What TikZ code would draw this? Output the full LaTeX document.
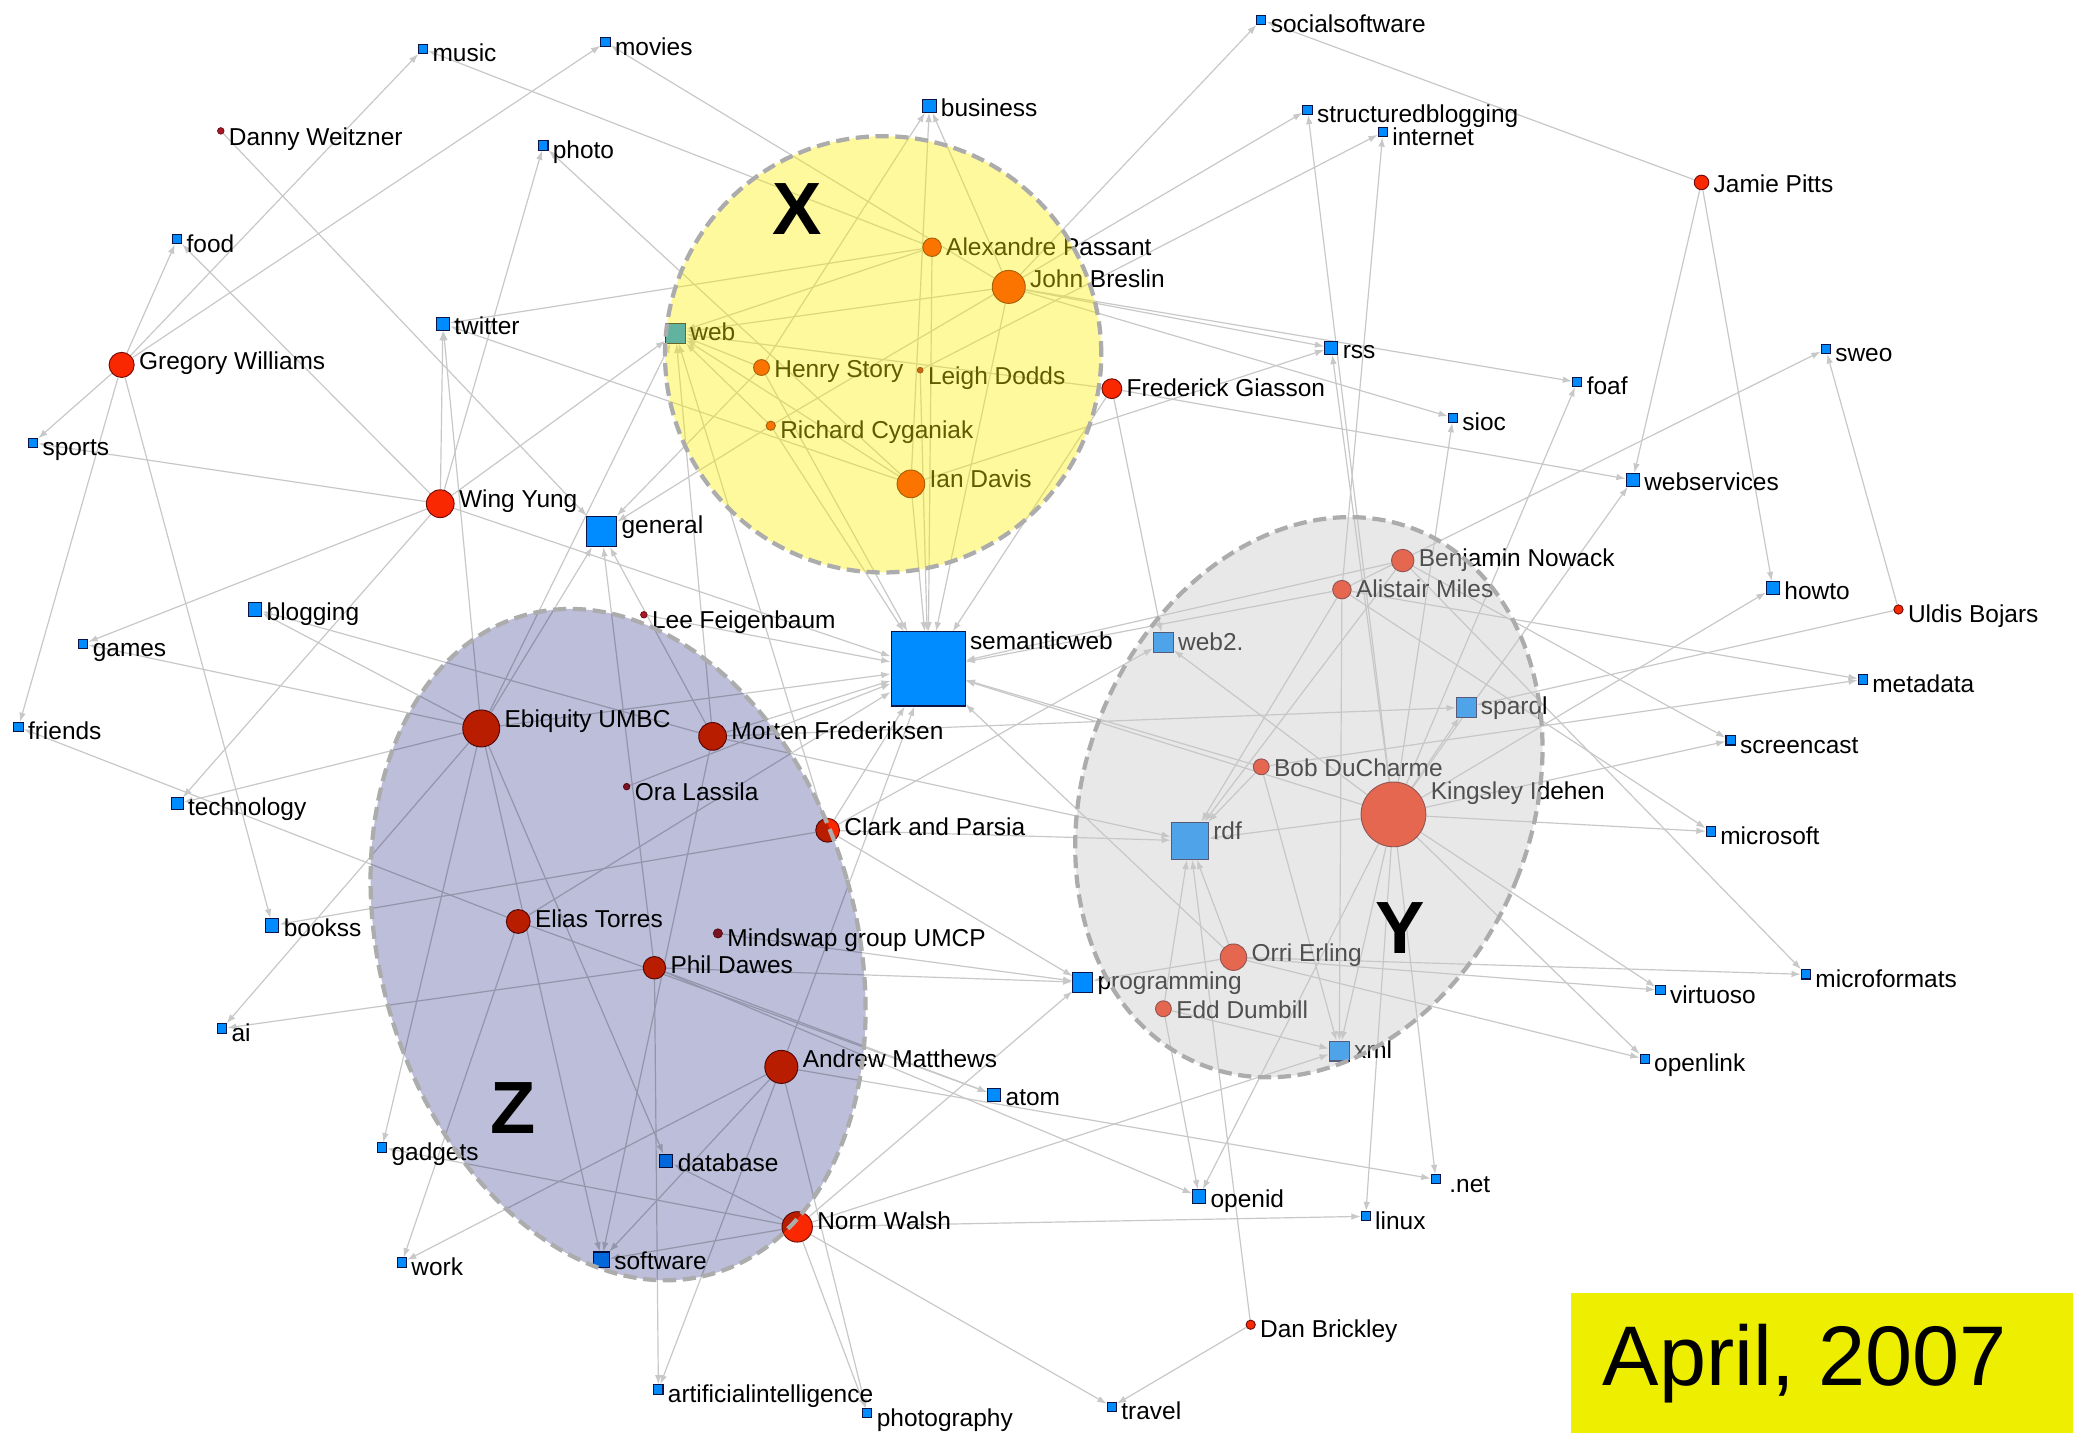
\documentclass[tikz,border=0pt]{standalone}
\usepackage{fontspec}
\setmainfont{Liberation Sans}
\usetikzlibrary{arrows.meta,backgrounds}
\definecolor{tagblue}{RGB}{0,140,255}
\definecolor{tagline}{RGB}{10,20,70}
\definecolor{pred}{RGB}{250,40,0}
\definecolor{pdark}{RGB}{165,25,40}
\definecolor{pline}{RGB}{110,10,10}
\definecolor{edgec}{RGB}{200,200,200}
\definecolor{xfill}{RGB}{255,240,0}
\definecolor{yfill}{RGB}{198,198,198}
\definecolor{zfill}{RGB}{188,190,218}
\definecolor{ringc}{RGB}{172,172,172}
\definecolor{datey}{RGB}{238,238,0}
\tikzset{
  tg/.style={rectangle, draw=tagline, fill=tagblue, line width=0.8pt, inner sep=0pt},
  pn/.style={circle, draw=pline, fill=pred, line width=0.7pt, inner sep=0pt},
  pd/.style={circle, draw=pline, fill=pdark, line width=0.5pt, inner sep=0pt},
  lbl/.style={anchor=base west, inner sep=0pt, text=black, font=\fontsize{18.5}{20}\selectfont},
  lnk/.style={draw=edgec, line width=0.9pt, -{Latex[length=7pt,width=5pt]}},
  ring/.style={draw=ringc, line width=3.2pt, dash pattern=on 10pt off 5pt},
  bigletter/.style={font=\fontsize{56}{60}\selectfont\bfseries, inner sep=0pt}
}
\newcommand\gnode[6]{%
  \node[#1, minimum size=#5pt] (#2) at (#3,#4) {};
  \node[lbl] (#2l) at ({#3+#5/2+3.5},{#4-#5/2+13.2}) {#6};
}
\begin{document}
\begin{tikzpicture}[x=1pt,y=-1pt]
\useasboundingbox (0,0) rectangle (1568,1084);
% ---------- people ----------
\gnode{pn}{gw}{92}{276}{19}{Gregory Williams}
\gnode{pd}{danny}{167}{99}{5}{Danny Weitzner}
\gnode{pn}{alex}{705}{187}{14}{Alexandre Passant}
\gnode{pn}{john}{763}{217}{25}{John Breslin}
\gnode{pn}{henry}{576}{278}{12}{Henry Story}
\gnode{pd}{leigh}{696}{280}{4.5}{Leigh Dodds}
\gnode{pn}{richard}{583}{322}{7}{Richard Cyganiak}
\gnode{pn}{ian}{689}{366}{21}{Ian Davis}
\gnode{pn}{fred}{841}{294}{15}{Frederick Giasson}
\gnode{pn}{jamie}{1287}{138}{11}{Jamie Pitts}
\gnode{pn}{wing}{333}{381}{21}{Wing Yung}
\gnode{pd}{lee}{487}{465}{5}{Lee Feigenbaum}
\gnode{pn}{ben}{1061}{424}{17}{Benjamin Nowack}
\gnode{pn}{alistair}{1015}{446}{14}{Alistair Miles}
\gnode{pn}{uldis}{1436}{461}{7}{Uldis Bojars}
\gnode{pn}{ebiq}{364}{551}{28}{Ebiquity UMBC}
\gnode{pn}{morten}{539}{557}{21}{Morten Frederiksen}
\gnode{pd}{ora}{474}{595}{5}{Ora Lassila}
\gnode{pn}{clark}{626}{628}{18}{Clark and Parsia}
\gnode{pn}{bob}{954}{580}{12}{Bob DuCharme}
\gnode{pn}{king}{1054}{616}{49}{Kingsley Idehen}
\gnode{pn}{elias}{392}{697}{18}{Elias Torres}
\gnode{pd}{mind}{543}{706}{7}{Mindswap group UMCP}
\gnode{pn}{phil}{495}{732}{17}{Phil Dawes}
\gnode{pn}{orri}{933}{724}{20}{Orri Erling}
\gnode{pn}{edd}{880}{763}{12}{Edd Dumbill}
\gnode{pn}{andrew}{591}{807}{25}{Andrew Matthews}
\gnode{pn}{norm}{603}{928}{23}{Norm Walsh}
\gnode{pn}{dan}{946}{1002}{7}{Dan Brickley}
% ---------- tags ----------
\gnode{tg}{music}{320}{37}{7}{music}
\gnode{tg}{movies}{458}{32}{7}{movies}
\gnode{tg}{business}{703}{80}{10}{business}
\gnode{tg}{socsw}{954}{15}{7}{socialsoftware}
\gnode{tg}{sblog}{989}{83}{7}{structuredblogging}
\gnode{tg}{internet}{1046}{100}{7}{internet}
\gnode{tg}{photo}{411}{110}{7}{photo}
\gnode{tg}{food}{134}{181}{7}{food}
\gnode{tg}{twitter}{335}{245}{10}{twitter}
\gnode{tg}{web}{511}{252}{15}{web}
\gnode{tg}{rss}{1007}{263}{10}{rss}
\gnode{tg}{foaf}{1193}{289}{7}{foaf}
\gnode{tg}{sweo}{1381}{264}{7}{sweo}
\gnode{tg}{sioc}{1099}{316}{7}{sioc}
\gnode{tg}{sports}{25}{335}{7}{sports}
\gnode{tg}{websvc}{1235}{363}{10}{webservices}
\gnode{tg}{general}{455}{402}{23}{general}
\gnode{tg}{blogging}{193}{461}{10}{blogging}
\gnode{tg}{games}{63}{487}{7}{games}
\gnode{tg}{semweb}{702}{506}{56}{semanticweb}
\gnode{tg}{webtwo}{880}{486}{15}{web2.}
\gnode{tg}{friends}{14}{550}{7}{friends}
\gnode{tg}{metadata}{1409}{514}{7}{metadata}
\gnode{tg}{sparql}{1109}{535}{15}{sparql}
\gnode{tg}{screencast}{1309}{560}{7}{screencast}
\gnode{tg}{tech}{134}{608}{9}{technology}
\gnode{tg}{microsoft}{1294}{629}{7}{microsoft}
\gnode{tg}{rdf}{900}{636}{28}{rdf}
\gnode{tg}{bookss}{206}{700}{10}{bookss}
\gnode{tg}{prog}{819}{743}{15}{programming}
\gnode{tg}{virtuoso}{1256}{749}{7}{virtuoso}
\gnode{tg}{microformats}{1366}{737}{7}{microformats}
\gnode{tg}{ai}{168}{778}{7}{ai}
\gnode{tg}{xml}{1013}{795}{15}{xml}
\gnode{tg}{openlink}{1244}{801}{7}{openlink}
\gnode{tg}{atom}{752}{828}{10}{atom}
\gnode{tg}{gadgets}{289}{868}{7}{gadgets}
\gnode{tg}{database}{504}{878}{10}{database}
\gnode{tg}{dotnet}{1086}{892}{7}{\,.net}
\gnode{tg}{openid}{907}{905}{10}{openid}
\gnode{tg}{linux}{1033}{920}{7}{linux}
\gnode{tg}{software}{455}{953}{12}{software}
\gnode{tg}{work}{304}{955}{7}{work}
\gnode{tg}{artint}{498}{1051}{7}{artificialintelligence}
\gnode{tg}{photography}{656}{1069}{7}{photography}
\gnode{tg}{travel}{841}{1064}{7}{travel}
\gnode{tg}{howto}{1341}{445}{10}{howto}
% ---------- connectors ----------
\begin{scope}[on background layer]
\fill[white] (0,0) rectangle (1568,1084);
\foreach \a/\b in {gw/music, gw/food, gw/sports, gw/movies, gw/friends, gw/bookss,
  danny/general,
  wing/photo, wing/twitter, wing/food, wing/sports, wing/games, wing/tech, wing/web, wing/semweb,
  ebiq/twitter, ebiq/web, ebiq/general, ebiq/games, ebiq/blogging, ebiq/tech, ebiq/ai, ebiq/gadgets, ebiq/software, ebiq/database, ebiq/semweb,
  alex/music, alex/twitter, alex/web, alex/semweb,
  john/movies, john/socsw, john/rss, john/foaf, john/sioc, john/semweb, john/web, john/business,
  henry/business, henry/semweb, henry/web, henry/general,
  leigh/internet, leigh/semweb,
  richard/sblog, richard/general, richard/semweb, richard/web,
  ian/photo, ian/twitter, ian/rss, ian/semweb, ian/web, ian/business,
  fred/web, fred/websvc, fred/webtwo, fred/semweb,
  jamie/socsw, jamie/websvc, jamie/howto,
  lee/semweb, ora/semweb,
  morten/general, morten/semweb, morten/web, morten/blogging, morten/sparql, morten/rdf, morten/software,
  clark/semweb, clark/rdf, clark/bookss, clark/prog, clark/web, clark/webtwo,
  elias/friends, elias/work, elias/atom, elias/semweb,
  phil/general, phil/artint, phil/atom, phil/prog, phil/openid, phil/ai,
  mind/prog,
  andrew/work, andrew/photography, andrew/artint, andrew/software, andrew/dotnet, andrew/semweb,
  norm/linux, norm/travel, norm/photography, norm/software, norm/database, norm/gadgets, norm/prog, norm/xml,
  king/semweb, king/rdf, king/sparql, king/xml, king/virtuoso, king/openlink, king/microsoft, king/screencast, king/howto, king/websvc, king/foaf, king/sioc, king/rss, king/sblog, king/dotnet, king/linux, king/openid, king/webtwo,
  ben/semweb, ben/screencast, ben/microformats, ben/rdf,
  alistair/semweb, alistair/rdf, alistair/internet, alistair/metadata, alistair/microsoft, alistair/sweo, alistair/xml,
  bob/semweb, bob/xml, bob/metadata, bob/rdf,
  uldis/sparql, uldis/sweo,
  orri/rdf, orri/virtuoso, orri/openlink, orri/microformats, orri/semweb, orri/prog,
  edd/rdf, edd/xml, edd/openid,
  dan/rdf, dan/travel}
  \draw[lnk] (\a) -- (\b);
\end{scope}
% ---------- cluster overlays ----------
\fill[xfill, fill opacity=0.38] (668,268) circle [radius=165pt];
\fill[yfill, fill opacity=0.4, shift={(990,603)}, rotate=-22] (0,0) ellipse [x radius=169pt, y radius=218pt];
\begin{scope}[blend mode=multiply]
\fill[zfill, shift={(467.5,714.5)}, rotate=16] (0,0) ellipse [x radius=180pt, y radius=259pt];
\end{scope}
\draw[ring] (668,268) circle [radius=165pt];
\draw[ring, shift={(990,603)}, rotate=-22] (0,0) ellipse [x radius=169pt, y radius=218pt];
\draw[ring, shift={(467.5,714.5)}, rotate=16] (0,0) ellipse [x radius=180pt, y radius=259pt];
\node[bigletter] (xletter) at (603,158) {X};
\node[bigletter] (yletter) at (1059,702) {Y};
\node[bigletter] (zletter) at (388,838) {Z};
% ---------- date box ----------
\node[fill=datey, anchor=north west, minimum width=380pt, minimum height=106pt, inner sep=0pt] (datebox) at (1188,978) {};
\node[anchor=base west, inner sep=0pt, font=\fontsize{64}{70}\selectfont] (date) at (1212,1048) {April, 2007};
\end{tikzpicture}
\end{document}
